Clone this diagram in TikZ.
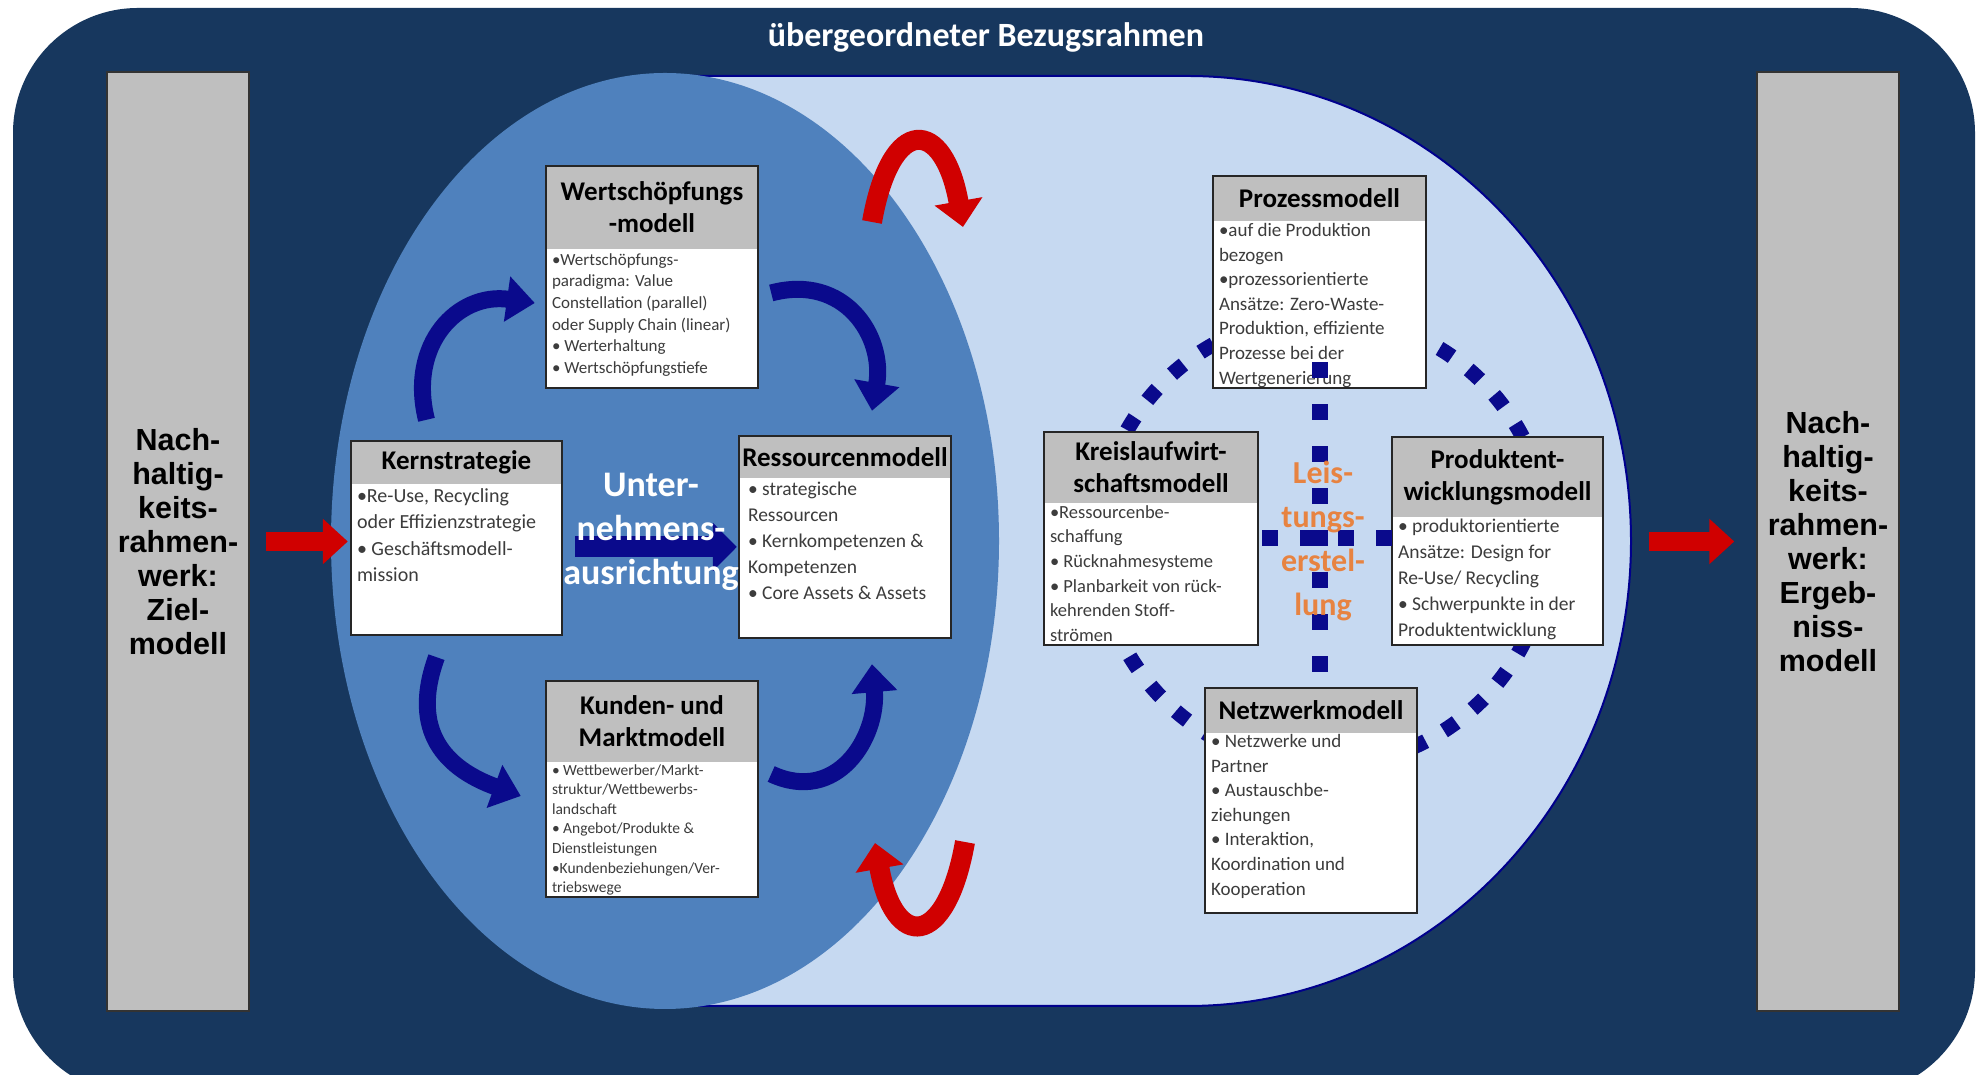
\documentclass[tikz,border=0pt]{standalone}
\usepackage{fontspec}
\setmainfont{Carlito}
\newfontfamily\balkenfont{Liberation Sans}
\usepackage{xcolor}
\usetikzlibrary{arrows.meta,positioning}

\definecolor{navy}{HTML}{17375E}
\definecolor{mittelblau}{HTML}{4F81BD}
\definecolor{hellblau}{HTML}{C6D9F1}
\definecolor{grau}{HTML}{BFBFBF}
\definecolor{dunkelblau}{HTML}{0A0A8C}
\definecolor{rot}{HTML}{D00000}
\definecolor{leistorange}{HTML}{EB7A2E}
\definecolor{textgrau}{HTML}{3C3C3C}

\begin{document}
\begin{tikzpicture}[x=1pt,y=1pt]
        \tikzstyle{balken}=[draw=black!80, line width=1.5pt, fill=grau, minimum width=142pt, minimum height=939pt, inner sep=0pt, align=center, font=\balkenfont\bfseries\fontsize{30.5}{34}\selectfont]
        \tikzstyle{rahmen}=[fill=white, inner sep=0pt, minimum width=212pt]
        \tikzstyle{kopf}=[fill=grau, inner sep=0pt, minimum width=212pt, align=center, font=\bfseries\fontsize{27}{32}\selectfont]
        \tikzstyle{inhalt}=[inner xsep=6pt, inner ysep=4pt, align=left, text=textgrau]
        \tikzstyle{rotpfeil}=[draw=rot, line width=19pt, -{Triangle[width=44pt,length=25pt]}]
        \tikzstyle{rotbogen}=[draw=rot, line width=20pt, -{Triangle[width=47pt,length=26pt]}]
        \tikzstyle{kreispfeil}=[draw=dunkelblau, line width=17pt, -{Triangle[width=44pt,length=28pt]}]
        \tikzstyle{punktring}=[draw=dunkelblau, line width=15pt, dash pattern=on 15pt off 21pt]
        \tikzstyle{punktlinie}=[draw=dunkelblau, line width=16pt, dash pattern=on 16pt off 26pt]
        \useasboundingbox (0,0) rectangle (1982,1075);
        \fill[navy, rounded corners=125pt] (13,-20) rectangle (1975,1067);
        \node[text=white, font=\bfseries\fontsize{34}{40}\selectfont] (titel) at (986,1038) {übergeordneter Bezugsrahmen};
        \node[balken] (ziel) at (178,533.5) {Nach-\\haltig-\\keits-\\rahmen-\\werk:\\Ziel-\\modell};
        \node[balken] (ergebnis) at (1828,533.5) {Nach-\\haltig-\\keits-\\rahmen-\\werk:\\Ergeb-\\niss-\\modell};
        % Leistungsbereich und Unternehmensbereich
        \filldraw[fill=hellblau, draw=blue!55!black, line width=2pt] (665,999) -- (1188,999) arc[start angle=90, end angle=-90, x radius=443, y radius=465] -- (665,69) -- cycle;
        \fill[mittelblau] (665,534) ellipse [x radius=334, y radius=468];
        \coordinate (leist) at (1323,534);
        \draw[punktring] (leist) circle[radius=225];
        \coordinate (obenfuss) at (872,853);
        \coordinate (obenspitze) at (963,848);
        \coordinate (untenfuss) at (965,233);
        \coordinate (untenspitze) at (875,232);
        \draw[rotbogen] (obenfuss) to[out=80,in=100,looseness=3.1] (obenspitze);
        \draw[rotbogen] (untenfuss) to[out=-100,in=-80,looseness=3.1] (untenspitze);
        % Modelle
        \node[rahmen, minimum height=222pt] (wert) at (652,798) {};
        \node[kopf, minimum height=83pt, below=0pt of wert.north] (wertkopf) {Wertschöpfungs\\-modell};
        \node[inhalt, font=\fontsize{17}{21.7}\selectfont, below right=0pt of wertkopf.south west] (werttext) {•Wertschöpfungs-\\paradigma: Value\\Constellation (parallel)\\oder Supply Chain (linear)\\• Werterhaltung\\• Wertschöpfungstiefe};
        \node[rahmen, minimum height=194pt, minimum width=211pt] (kern) at (456.5,537) {};
        \node[kopf, minimum height=43pt, minimum width=211pt, below=0pt of kern.north] (kernkopf) {Kernstrategie};
        \node[inhalt, font=\fontsize{20}{26.5}\selectfont, below right=0pt of kernkopf.south west] (kerntext) {•Re-Use, Recycling\\oder Effizienzstrategie\\• Geschäftsmodell-\\mission};
        \node[rahmen, minimum height=202pt] (ress) at (845,538) {};
        \node[kopf, minimum height=42pt, below=0pt of ress.north] (resskopf) {Ressourcenmodell};
        \node[inhalt, font=\fontsize{19.5}{26}\selectfont, inner xsep=9pt, below right=0pt of resskopf.south west] (resstext) {• strategische\\Ressourcen\\• Kernkompetenzen \&\\Kompetenzen\\• Core Assets \& Assets};
        \node[rahmen, minimum height=216pt] (kunden) at (652,286) {};
        \node[kopf, minimum height=81pt, below=0pt of kunden.north] (kundenkopf) {Kunden- und\\Marktmodell};
        \node[inhalt, font=\fontsize{15.5}{19.6}\selectfont, inner ysep=2pt, below right=0pt of kundenkopf.south west] (kundentext) {• Wettbewerber/Markt-\\struktur/Wettbewerbs-\\landschaft\\• Angebot/Produkte \&\\Dienstleistungen\\•Kundenbeziehungen/Ver-\\triebswege};
        \node[rahmen, minimum height=212pt, minimum width=213pt] (prozess) at (1319.5,793) {};
        \node[kopf, minimum height=45pt, minimum width=213pt, below=0pt of prozess.north] (prozesskopf) {Prozessmodell};
        \node[inhalt, font=\fontsize{19}{24.6}\selectfont, inner ysep=2pt, below right=0pt of prozesskopf.south west] (prozesstext) {•auf die Produktion\\bezogen\\•prozessorientierte\\Ansätze: Zero-Waste-\\Produktion, effiziente\\Prozesse bei der\\Wertgenerierung};
        \node[rahmen, minimum height=213pt, minimum width=214pt] (kreis) at (1151,536.5) {};
        \node[kopf, minimum height=71pt, minimum width=214pt, below=0pt of kreis.north] (kreiskopf) {Kreislaufwirt-\\schaftsmodell};
        \node[inhalt, font=\fontsize{18.5}{24.6}\selectfont, inner ysep=2pt, below right=0pt of kreiskopf.south west] (kreistext) {•Ressourcenbe-\\schaffung\\• Rücknahmesysteme\\• Planbarkeit von rück-\\kehrenden Stoff-\\strömen};
        \node[rahmen, minimum height=208pt, minimum width=211pt] (produkt) at (1497.5,534) {};
        \node[kopf, minimum height=80pt, minimum width=211pt, below=0pt of produkt.north] (produktkopf) {Produktent-\\wicklungsmodell};
        \node[inhalt, font=\fontsize{19.5}{26}\selectfont, inner ysep=2pt, below right=0pt of produktkopf.south west] (produkttext) {• produktorientierte\\Ansätze: Design for\\Re-Use/ Recycling\\• Schwerpunkte in der\\Produktentwicklung};
        \node[rahmen, minimum height=225pt] (netz) at (1311,274.5) {};
        \node[kopf, minimum height=45pt, below=0pt of netz.north] (netzkopf) {Netzwerkmodell};
        \node[inhalt, font=\fontsize{19}{24.6}\selectfont, inner ysep=1pt, below right=0pt of netzkopf.south west] (netztext) {• Netzwerke und\\Partner\\• Austauschbe-\\ziehungen\\• Interaktion,\\Koordination und\\Kooperation};
        \foreach \b in {wert,kern,ress,kunden,prozess,kreis,produkt,netz}
          \draw[draw=black!85, line width=2pt] (\b.north west) rectangle (\b.south east);
        % Leistungserstellung
        \draw[punktlinie] ([yshift=26pt]prozess.south) -- (prozess.south |- netz.north);
        \draw[punktlinie, dash pattern=on 16pt off 22pt, dash phase=-4pt] (kreis.east) -- (kreis.east -| produkt.west);
        \node[text=leistorange, text opacity=0.9, align=center, font=\bfseries\fontsize{32}{44}\selectfont] (leisttext) at (leist) {Leis-\\tungs-\\erstel-\\lung};
        % Pfeile
        \coordinate (zielende) at (ziel.east -| kern.west);
        \draw[rotpfeil] ([xshift=16pt]ziel.east) -- ([xshift=-3pt]zielende);
        \draw[rotpfeil] ([xshift=-107pt]ergebnis.west) -- ([xshift=-22pt]ergebnis.west);
        \coordinate (pfeilende) at (kern.east -| ress.west);
        \draw[draw=dunkelblau, line width=21pt, -{Triangle[width=47pt,length=24pt]}] ([xshift=13pt,yshift=-9pt]kern.east) -- ([xshift=-2pt,yshift=-9pt]pfeilende);
        \draw[kreispfeil] ([xshift=-30pt,yshift=21pt]kern.north) to[out=104,in=172,looseness=1.25] ([xshift=-11pt,yshift=-26pt]wert.west);
        \draw[kreispfeil] ([xshift=13pt,yshift=-16pt]wert.east) to[out=15,in=80,looseness=1.25] ([xshift=27pt,yshift=25pt]ress.north);
        \draw[kreispfeil] ([xshift=13pt,yshift=15pt]kunden.east) to[out=-25,in=-85,looseness=1.25] ([xshift=27pt,yshift=-26pt]ress.south);
        \draw[kreispfeil] ([xshift=-20pt,yshift=-22pt]kern.south) to[out=-110,in=160,looseness=1.25] ([xshift=-25pt,yshift=-7pt]kunden.west);
        \node[text=white, align=center, font=\bfseries\fontsize{36}{44}\selectfont] (ausrichtung) at (651,543) {Unter-\\nehmens-\\ausrichtung};
\end{tikzpicture}
\end{document}
